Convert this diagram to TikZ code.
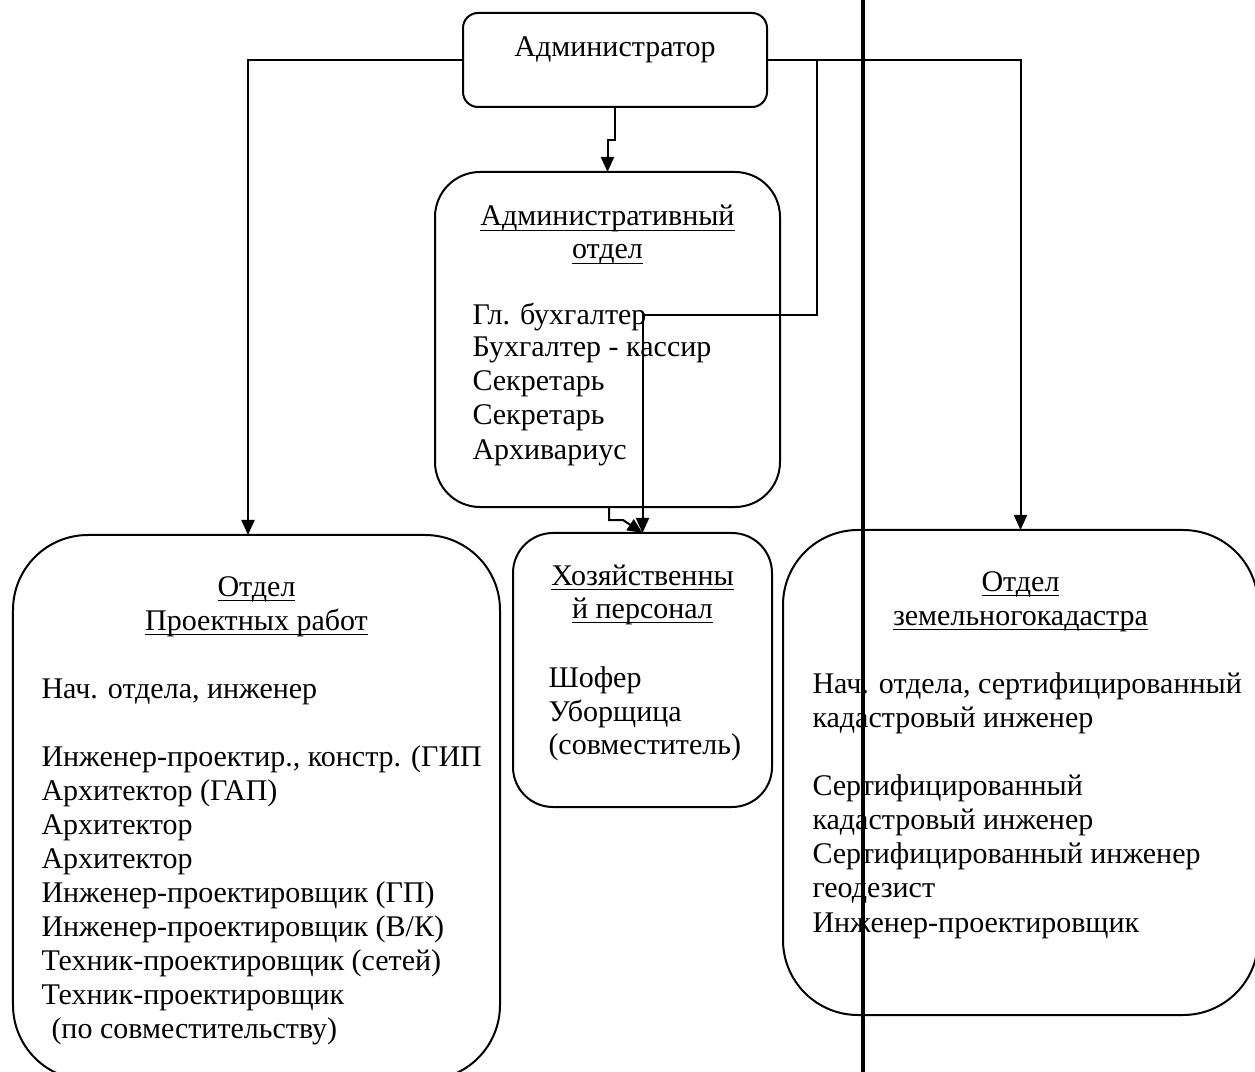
\documentclass[tikz,border=0pt]{standalone}
\usepackage{fontspec}
\setmainfont{Liberation Serif}
\usetikzlibrary{arrows.meta}
\newcommand\ulin[1]{\setbox0\hbox{#1}\rlap{\rule[-2pt]{\wd0}{0.5pt}}\box0}
\begin{document}
\begin{tikzpicture}[x=0.4pt,y=-0.4pt,
  box/.style={draw,line width=0.8pt,inner sep=0pt,outer sep=0pt},
  conn/.style={line width=0.8pt},
  arr/.style={conn,-{Triangle[length=6pt,width=5.2pt]}},
  txt/.style={inner sep=0pt,anchor=base west,font=\fontsize{12pt}{13.8pt}\selectfont},
  ttl/.style={inner sep=0pt,anchor=base,font=\fontsize{12pt}{13.8pt}\selectfont},
  thick line/.style={line width=1.6pt}
]
\useasboundingbox (0,0) rectangle (1255,1072);
\fill[white] (0,0) rectangle (1255,1072);
\clip (0,0) rectangle (1255,1072);

% boxes
\node[box,rounded corners=6pt,minimum width=121.6pt,minimum height=37.6pt] (admin) at (615,60) {};
\node[box,rounded corners=18pt,minimum width=138pt,minimum height=134pt] (admdept) at (607.5,339.5) {};
\node[box,rounded corners=16pt,minimum width=103.6pt,minimum height=109.6pt] (hoz) at (642.5,670) {};
\node[box,rounded corners=30pt,minimum width=194.8pt,minimum height=218pt] (left) at (256.5,807.5) {};
\node[box,rounded corners=30pt,minimum width=190pt,minimum height=194pt] (right) at (1020.5,772.5) {};

% texts
\node[ttl] (tadmin) at (615,57) {Администратор};

\node[ttl] (ad1) at (607.5,226) {\ulin{Административный}};
\node[ttl] (ad2) at (607.5,259) {\ulin{отдел}};
\node[txt] (ad3) at (472,324) {Гл. бухгалтер};
\node[txt] (ad4) at (472,357) {Бухгалтер - кассир};
\node[txt] (ad5) at (472,391) {Секретарь};
\node[txt] (ad6) at (472,425) {Секретарь};
\node[txt] (ad7) at (472,459) {Архивариус};

\node[ttl] (hz1) at (642.5,585) {\ulin{Хозяйственны}};
\node[ttl] (hz2) at (642.5,618) {\ulin{й персонал}};
\node[txt] (hz3) at (548,687) {Шофер};
\node[txt] (hz4) at (548,721) {Уборщица};
\node[txt] (hz5) at (548,754) {(совместитель)};

\node[ttl] (lf1) at (256.5,596) {\ulin{Отдел}};
\node[ttl] (lf2) at (256.5,630) {\ulin{Проектных работ}};
\node[txt] (lf3) at (41,698) {Нач. отдела, инженер};
\node[txt] (lf4) at (41,766) {Инженер-проектир., констр. (ГИП};
\node[txt] (lf5) at (41,800) {Архитектор (ГАП)};
\node[txt] (lf6) at (41,834) {Архитектор};
\node[txt] (lf7) at (41,868) {Архитектор};
\node[txt] (lf8) at (41,902) {Инженер-проектировщик (ГП)};
\node[txt] (lf9) at (41,936) {Инженер-проектировщик (В/К)};
\node[txt] (lf10) at (41,970) {Техник-проектировщик (сетей)};
\node[txt] (lf11) at (41,1004) {Техник-проектировщик};
\node[txt] (lf12) at (51,1038) {(по совместительству)};

\node[ttl] (rt1) at (1020.5,591) {\ulin{Отдел}};
\node[ttl] (rt2) at (1020.5,625) {\ulin{земельногокадастра}};
\node[txt] (rt3) at (812,693) {Нач. отдела, сертифицированный};
\node[txt] (rt4) at (812,727) {кадастровый инженер};
\node[txt] (rt5) at (812,795) {Сертифицированный};
\node[txt] (rt6) at (812,829) {кадастровый инженер};
\node[txt] (rt7) at (812,863) {Сертифицированный инженер};
\node[txt] (rt8) at (812,897) {геодезист};
\node[txt] (rt9) at (812,932) {Инженер-проектировщик};

% connectors
\draw[arr] (admin.west) -| ([xshift=-3.4pt]left.north);
\draw[arr] (admin.east) -| (right.north);
\coordinate (j1) at (817,60);
\coordinate (gl) at (642.5,315);
\draw[arr] (j1) |- (gl) -- (hoz.north);
\draw[arr] (admin.south) -- ++(0,33) -| (admdept.north);
\draw[arr] ([xshift=0.6pt]admdept.south) -- ++(0,13) -- ++(14,0) -- (hoz.north);

% thick vertical line
\coordinate (t1) at (863,0);
\coordinate (t2) at (863,1072);
\draw[thick line] (t1) -- (t2);
\end{tikzpicture}
\end{document}
